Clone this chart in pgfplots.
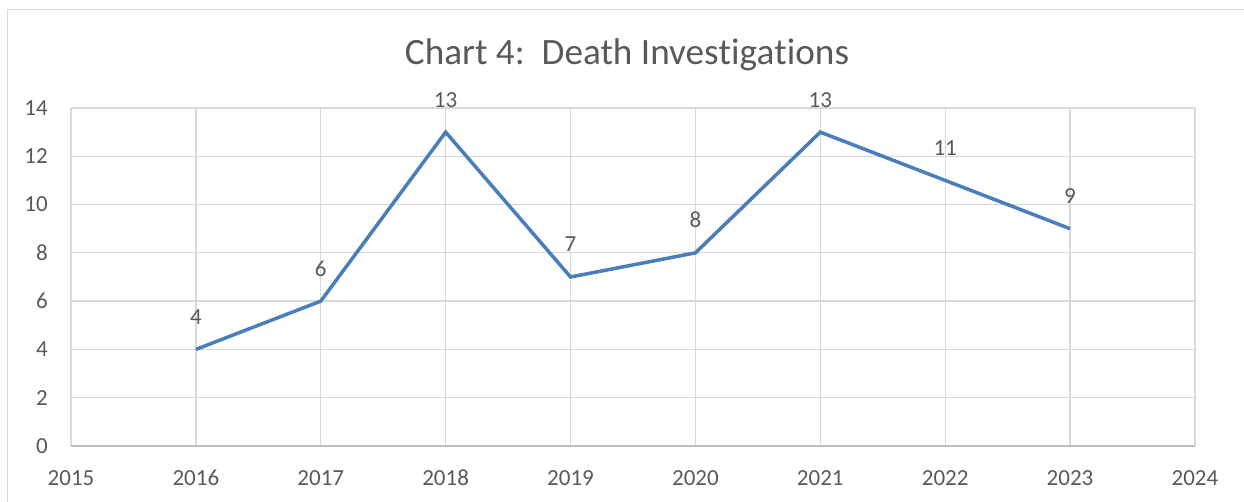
\documentclass[border=0pt]{standalone}
\usepackage{pgfplots}
\pgfplotsset{compat=1.18}
\usepackage{fontspec}
\setmainfont[Ligatures={NoCommon,NoRequired,NoContextual},Contextuals={NoAlternate},RawFeature={-dlig}]{Carlito}
\definecolor{linec}{HTML}{4A7EBB}
\definecolor{gridc}{HTML}{D9D9D9}
\definecolor{axisc}{HTML}{BFBFBF}
\definecolor{textc}{HTML}{595959}
\begin{document}
\begin{tikzpicture}[x=1bp,y=1bp]
\path[use as bounding box] (0,0) rectangle (1244,502);
\draw[gridc, line width=1.5bp] (7.5,0) -- (7.5,492.5) -- (1244,492.5);
\node[anchor=base, text=textc, font=\fontsize{37.2bp}{40bp}\selectfont, inner sep=0pt] at (627,437) {Chart 4:\ \ Death Inves\kern0pt tiga\kern0pt tions};
\begin{axis}[
  at={(71bp,56bp)}, anchor=south west,
  scale only axis, width=1124bp, height=338bp,
  xmin=2015, xmax=2024, ymin=0, ymax=14,
  xtick={2015,2016,...,2024}, ytick={0,2,...,14},
  axis x line*=bottom, axis y line*=left,
  x axis line style={draw=axisc, line width=1.5bp, -},
  y axis line style={draw=none},
  grid=major, major grid style={draw=gridc, line width=1.3bp},
  major tick length=0pt,
  tick label style={font=\fontsize{23bp}{27bp}\selectfont, text=textc, inner sep=0pt},
  xticklabel style={anchor=base, yshift=-40bp},
  yticklabel style={anchor=east, xshift=-23bp},
  /pgf/number format/assume math mode=true,
  /pgf/number format/1000 sep={},
  clip=false,
  nodes near coords,
  every node near coord/.append style={anchor=base, yshift=25bp, inner sep=0pt, text=textc, font=\fontsize{23bp}{27bp}\selectfont},
]
\addplot[linec, line width=3.5bp, mark=none, line join=miter] coordinates {
(2016,4) (2017,6) (2018,13) (2019,7) (2020,8) (2021,13) (2022,11) (2023,9)
};
\end{axis}
\end{tikzpicture}
\end{document}
